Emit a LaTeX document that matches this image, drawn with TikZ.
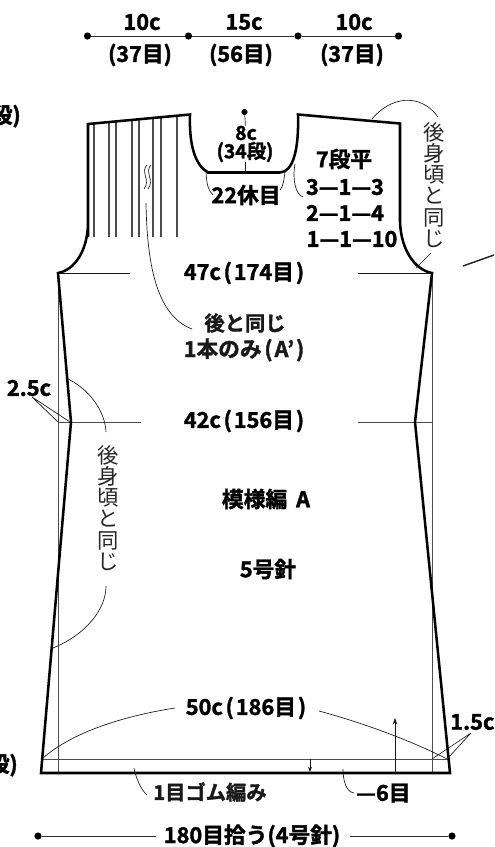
\documentclass[tikz,border=0pt]{standalone}
\usepackage{fontspec}
\setmainfont{Noto Sans CJK JP}
\newfontfamily\cjkb{Noto Sans CJK JP Bold}[FakeBold=1.6]
\usetikzlibrary{arrows.meta}
\newcommand{\pa}[1]{\hspace{2pt}(\hspace{1.5pt}#1\hspace{1.5pt})}
\tikzset{
 lab/.style={font=\cjkb\fontsize{16.3pt}{18pt}\selectfont,inner sep=0pt,text=black},
 labm/.style={font=\cjkb\fontsize{15.2pt}{17pt}\selectfont,inner sep=0pt,text=black!90},
 labs/.style={font=\cjkb\fontsize{14.5pt}{16pt}\selectfont,inner sep=0pt,text=black},
 tate/.style={font=\fontsize{16pt}{15.9pt}\selectfont,inner sep=0pt,text=black!85,align=center},
 outl/.style={line width=1.9pt,line join=miter},
 guide/.style={line width=0.7pt,black!70},
 lead/.style={line width=0.5pt,black!90},
 dimline/.style={line width=0.6pt,black!80},
 dotp/.style={circle,fill=black,inner sep=0pt,minimum size=5.4pt},
}
\begin{document}
\begin{tikzpicture}[x=0.75pt,y=-0.75pt]
\useasboundingbox (0,0) rectangle (494,847);
% top dims
\node[dotp] (t0) at (87.5,36) {};
\node[dotp] (t1) at (188.5,36) {};
\node[dotp] (t2) at (298,36) {};
\node[dotp] (t3) at (398.5,36) {};
\draw[dimline] (t0)--(t1)--(t2)--(t3);
\node[lab] (a1) at (142,22) {10c};
\node[lab] (a2) at (244,22) {15c};
\node[lab] (a3) at (354,22) {10c};
\node[lab] (b1) at (140,55) {(37目)};
\node[lab] (b2) at (241,55) {(56目)};
\node[lab] (b3) at (352,55) {(37目)};
% clipped labels
\node[lab,anchor=east] (c1) at (21,116) {段)};
\node[lab,anchor=east] (c2) at (18,765) {段)};
% guides
\draw[guide] (58,273)--(58,773);
\draw[guide] (432,273)--(432,773);
\draw[guide] (41,759)--(449,759);
\draw[lead] (58,273)--(130,273);
\draw[lead] (358,273)--(432,273);
\draw[guide] (58,422)--(141,422);
\draw[guide] (358,422)--(432,422);
% pleats
\foreach \x/\ya in {94/123.5,109/122,116/121.5,132/120,139/119.5,153/118,161/117.5,177/116}
  \draw[line width=0.9pt,black!70] (\x,\ya)--(\x,237);
% outline
\draw[outl] (88,237) -- (88,124) -- (190,114.5)
  .. controls (189,145) and (195,165) .. (208,172.5) -- (280,172.5)
  .. controls (293,172) and (299,150) .. (298,114.5)
  -- (400,123.5) -- (400,222)
  .. controls (401,250) and (415,270) .. (432,273)
  -- (415,422) -- (450,773) -- (41,773) -- (71,422) -- (58,273)
  .. controls (75,270) and (88,250) .. (88,222) -- cycle;
% squiggle
\draw[lead] (147,165) .. controls (140,172) and (151,180) .. (144,189);
\draw[lead] (151,165) .. controls (144,172) and (155,180) .. (148,189);
% neck
\node[dotp,minimum size=4.6pt] (n0) at (244.5,112) {};
\node[labs] (n1) at (246,133) {8c};
\node[labs] (n2) at (245,152) {(34段)};
\draw[lead] (n0)--(n1);
\draw[lead] (n2)--(245,172);
\node[lab] (n3) at (246,195) {22休目};
\draw[lead] (206,173) .. controls (207,185) and (208,190) .. (213,195);
\draw[lead] (285,172) .. controls (284,180) and (283,187) .. (280,190);
% shaping
\node[lab] (s1) at (344,159) {7段平};
\node[lab] (s2) at (345,187) {3—1—3};
\node[lab] (s3) at (345,213) {2—1—4};
\node[lab] (s4) at (352,239) {1—1—10};
\draw[lead] (295,164) .. controls (292,180) and (296,195) .. (303,197);
% right vertical
\node[tate] (v1) at (434,185) {後\\身\\頃\\と\\同\\じ};
\draw[lead] (372,119) .. controls (390,97) and (420,92) .. (438,117);
\draw[lead] (431,253) -- (416,268);
\draw[line width=1.1pt,black!85] (463,266)--(494,255);
% centre labels
\node[lab] (w1) at (244,273) {47c\pa{174目}};
\node[labm] (w2) at (245,323) {後と同じ};
\node[lab,text=black!90] (w3) at (244,350) {1本のみ\pa{A’}};
\draw[lead] (146,203) .. controls (147,260) and (155,315) .. (192,329);
\node[lab] (w4) at (244,421) {42c\pa{156目}};
\node[lab] (w5) at (266,499) {模様編\hspace{3pt} A};
\node[lab] (w6) at (268,569) {5号針};
% 2.5c
\node[lab] (d1) at (29,388) {2.5c};
\coordinate (d1p) at (32,397);
\draw[lead] (d1p)--(58,422) (d1p)--(70,422);
\draw[lead] (66,378) .. controls (88,388) and (105,410) .. (106,432);
\node[tate] (v2) at (108,508) {後\\身\\頃\\と\\同\\じ};
\draw[lead] (106,586) .. controls (106,610) and (85,635) .. (53,648);
% bottom
\node[lab] (e1) at (246,708) {50c\pa{186目}};
\draw[lead] (175,708) .. controls (130,715) and (75,730) .. (43,758);
\draw[lead] (319,711) .. controls (360,722) and (410,740) .. (447,759);
\node[lab,anchor=west] (e2) at (450,722) {1.5c};
\coordinate (e2p) at (471,733);
\draw[lead] (e2p)--(432,759) (e2p)--(448,758);
\draw[lead,-{Stealth[length=5pt,width=3.5pt]}] (395,773)--(395,718);
\draw[lead,-{Stealth[length=4pt,width=3pt]}] (310,759)--(310,772);
\node[labm,anchor=west] (f1) at (153,792) {1目ゴム編み};
\draw[lead] (134,768) .. controls (136,778) and (141,790) .. (147,795);
\node[lab,anchor=west] (f2) at (356,793) {—6目};
\draw[lead] (343,769) .. controls (343,780) and (346,792) .. (354,793);
\node[dotp] (g0) at (38,836) {};
\node[dotp] (g1) at (452,836) {};
\node[lab] (g2) at (252,836) {180目拾う(4号針)};
\coordinate (g3) at (156,836);
\coordinate (g4) at (350,836);
\draw[dimline] (g0)--(g3);
\draw[dimline] (g4)--(g1);
\end{tikzpicture}
\end{document}
